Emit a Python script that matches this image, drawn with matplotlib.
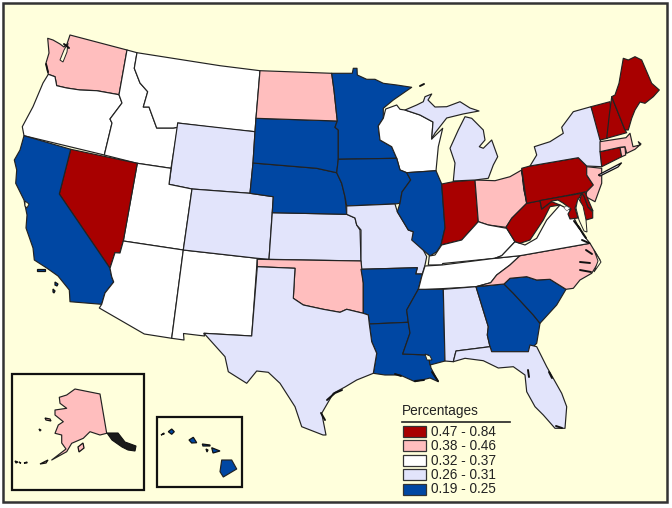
import matplotlib
matplotlib.use("Agg")
import matplotlib.pyplot as plt
from matplotlib.patches import Polygon, Rectangle

plt.rcParams["font.family"] = ["Liberation Sans", "DejaVu Sans"]

# colour classes, top of legend first
legend_title = "Percentages"
legend_labels = ["0.47 - 0.84", "0.38 - 0.46", "0.32 - 0.37", "0.26 - 0.31", "0.19 - 0.25"]
class_colors = ["#a80000", "#ffbebe", "#ffffff", "#e2e4fb", "#0047a3"]
paper = "#ffffdc"

# which class each state falls in (index into legend_labels)
state_class = {
    "WA": 1, "OR": 2, "CA": 4, "NV": 0, "ID": 2, "MT": 2, "WY": 3, "UT": 2, "AZ": 2, "CO": 3,
    "NM": 2, "ND": 1, "SD": 4, "NE": 4, "KS": 3, "OK": 1, "TX": 3, "MN": 4, "IA": 4, "MO": 3,
    "AR": 4, "LA": 4, "WI": 2, "IL": 4, "MS": 4, "MI": 3, "MI2": 3, "IN": 0, "OH": 1, "KY": 2,
    "TN": 2, "AL": 3, "GA": 4, "FL": 3, "SC": 4, "NC": 1, "VA": 2, "WV": 0, "PA": 0, "NY": 3,
    "NJ": 1, "CT": 0, "RI": 1, "MA": 1, "VT": 0, "NH": 0, "ME": 0, "MD": 0, "MD2": 0, "DE": 0,
    "AK": 1, "HI": 4,
}

# state outlines, in the pixel grid of the map sheet
outlines = {
    "WA": [(47.7,38.3),(53,40),(60,44),(64,47),(67,44),(70,35),(127,50),(119,94.7),(96.7,90.7),(80,90),(66.7,88),(56.7,85.7),(55,76.7),(48.3,74.3),(46,63),(49,53)],
    "OR": [(48.3,74.3),(55,76.7),(56.7,85.7),(66.7,88),(80,90),(96.7,90.7),(119,94.7),(122,103),(110,119),(112,123),(104.3,155),(24,135.7),(22.3,126.7),(33,106.7),(43,83)],
    "ID": [(127,50),(137,52.7),(134.3,68.3),(140,83),(147.7,91.7),(143.3,107),(149,107),(156.7,128),(173.3,128),(177.7,127.3),(171,168.3),(137.3,163.3),(104.3,155),(112,123),(110,119),(122,103),(119,94.7)],
    "MT": [(137,52.7),(220,65.7),(260,70.7),(256,118.3),(255,131.7),(220,128.3),(177.7,123),(177.7,127.3),(173.3,128),(156.7,128),(149,107),(143.3,107),(147.7,91.7),(140,83),(134.3,68.3)],
    "WY": [(177.7,123),(255,131.7),(253,163),(250,193.3),(192,189),(169,184.3)],
    "UT": [(137.3,163.3),(171,168.3),(169,184.3),(192,189),(183.3,250),(123.3,241)],
    "NV": [(70.7,149.3),(137.3,163.3),(123.3,241),(120,253),(115,252.7),(110,268.3),(59.3,194)],
    "CA": [(24,135.7),(70.7,149.3),(59.3,194),(110,268.3),(111.7,276.7),(113.7,282),(105,293),(101.7,304.3),(70,301.7),(69.3,290),(58,276),(46.7,268),(34.3,260),(33,248),(26,228),(27,215),(24,200),(15.7,183.3),(16.7,170),(14.3,160),(20,150)],
    "AZ": [(123.3,241),(183.3,250),(171.7,338.3),(144.3,334),(99.3,308),(101.7,304.3),(105,293),(113.7,282),(111.7,276.7),(110,268.3),(115,252.7),(120,253)],
    "NM": [(183.3,250),(257.3,258.3),(251.7,336),(204,333.3),(204.5,336),(183.5,333.5),(184,340),(171.7,338.3)],
    "CO": [(192,189),(250,193.3),(273.3,196.7),(269,259.3),(257.3,258.3),(183.3,250)],
    "KS": [(272.3,212.7),(346.7,214.3),(355,218),(356.7,225),(360,230),(361,261),(269,259.3)],
    "NE": [(253,163),(316.7,168.3),(336.7,172.7),(341.7,183.3),(345,196.7),(346.7,214.3),(272.3,212.7),(273.3,196.7),(250,193.3)],
    "SD": [(256,118.3),(337.3,121),(335,127.3),(338.3,130),(338.3,159.3),(336.7,172.7),(316.7,168.3),(253,163),(255,131.7)],
    "ND": [(260,70.7),(331.7,73.3),(334,90),(337.3,121),(256,118.3)],
    "MN": [(331.7,73.3),(352.3,73.3),(353.3,68.3),(357,68.3),(357.3,75),(366.7,79.3),(375,79.3),(383.3,83.3),(396.7,85),(411.7,87.3),(393.3,100),(383.3,108.3),(383.3,118.3),(378.3,126),(380,140),(391.7,146.7),(396.7,158.3),(338.3,159.3),(338.3,130),(335,127.3),(337.3,121),(334,90)],
    "WI": [(385.7,109),(396.7,105),(400,109.3),(405,110),(420,115),(433,122),(431.7,139),(442.7,128.3),(438.3,146.7),(436,170.7),(406.7,172.7),(400,170),(396.7,158.3),(391.7,146.7),(380,140),(378.3,126),(383.3,118.3)],
    "IA": [(338.3,159.3),(396.7,158.3),(400,170),(406.7,172.7),(410.7,180),(402,192),(400,203.3),(395,204),(346.7,206),(345,196.7),(341.7,183.3),(336.7,172.7)],
    "MO": [(346.7,206),(395,204),(397.3,211.7),(408.3,230),(413.3,231.7),(413.3,240),(423.3,250),(426.7,256.7),(425,265),(422.3,274),(415.7,274),(417.3,267.7),(361,269.3),(361,230),(356.7,225),(355,218),(346.7,214.3)],
    "OK": [(257.3,259.3),(361,261),(363.3,283),(363.3,313.3),(346.7,309.3),(340,312.3),(323.3,309.3),(303.3,305),(293.3,298.3),(295,268.3),(257.3,266.7)],
    "AR": [(361,269.3),(417.3,267.7),(415.7,274),(422.3,274),(418.3,289.3),(406.7,310),(408.3,322.3),(369.3,324),(368.3,315),(363.3,313.3),(363.3,283)],
    "LA": [(369.3,324),(408.3,322.3),(410,333),(402.7,354),(428.3,355),(431,368),(438.3,381.7),(430,378),(415,381.7),(400,375),(385,375),(373.3,373.3),(376.7,353.3),(371.7,341.7)],
    "TX": [(257.3,266.7),(295,268.3),(293.3,298.3),(303.3,305),(323.3,309.3),(340,312.3),(346.7,309.3),(363.3,313.3),(368.3,315),(369.3,324),(371.7,341.7),(376.7,353.3),(373.3,373.3),(356.7,380),(345,387),(333.3,393.3),(321.7,413.3),(326,435),(323,435),(301.7,426.7),(295,406.7),(280,383.3),(268.3,372.3),(256.7,371),(246.7,383.3),(228.3,371.7),(225,356.7),(204,333.3),(251.7,336)],
    "IL": [(406.7,172.7),(436,170.7),(441.7,184),(445,228),(441,245),(436.7,251.7),(430,256),(425,251.7),(411.7,240),(413.3,231.7),(408.3,230),(397.3,211.7),(400,203.3),(402,192),(410.7,180)],
    "IN": [(441.7,184),(453.3,181.7),(475,180),(478.3,221.7),(461.7,240),(441,245),(445,228)],
    "OH": [(475,180),(495,180.7),(510,176.7),(521.7,170),(524,190),(526.7,203.3),(511.7,218.3),(506,227.3),(488.3,225),(478.3,221.7)],
    "MI": [(453.3,181),(455,163),(450,148.3),(458.3,130),(465,116.7),(471.7,118.3),(483.3,130),(485,140),(479.3,146.7),(483.3,148.3),(491.7,140),(497.7,156.7),(493.3,165),(488.3,178.3),(475,180)],
    "MI2": [(405,110),(416.7,105),(423.3,101.7),(425,96.7),(431.7,94),(428,100),(435,107),(446.7,106.7),(460,101.7),(470,108),(479,111),(463,114),(446.7,118),(435,133),(431.7,139),(433,122),(420,115)],
    "KY": [(429.3,256),(435,255),(441.7,245),(461.7,240),(478.3,221.7),(488.3,225),(506.7,228.3),(515,241.7),(501.7,255.7),(495,258.3),(442.7,263.5),(442,265),(428.3,265)],
    "TN": [(425,266),(442,265),(495,258.3),(520,255.7),(510,265),(496.7,275),(490.7,282.7),(476,286.7),(418.3,290),(421.7,276.7)],
    "MS": [(418.3,289.3),(443.3,289.3),(445,361),(430,365),(428.3,355),(402.7,354),(410,333),(408.3,322.3),(406.7,310)],
    "AL": [(443.3,289.3),(476,286.7),(488.3,326.7),(487.3,335),(490,346.7),(456,351),(453.3,361.7),(445,361)],
    "GA": [(476,286.7),(504,284),(513.3,293.3),(533.3,315),(540,323.3),(536.7,343.3),(528.3,351.7),(491.7,351.7),(490,346.7),(487.3,335),(488.3,326.7)],
    "FL": [(456,351),(490,346.7),(491.7,351.7),(528.3,351.7),(530,345),(536.7,346.7),(546.7,366.7),(561.7,393.3),(566.7,406.7),(565,428.3),(555,428.3),(543.3,415),(535,406.7),(526.7,391.7),(525,375),(513.3,366.7),(498.3,368),(483.3,360.7),(465,358.3),(453.3,361.7)],
    "SC": [(504,284),(510,278.3),(526.7,276.7),(536.7,280),(550,279.3),(566,289.3),(556.7,305),(540,323.3),(533.3,315),(513.3,293.3)],
    "NC": [(490.7,282.7),(496.7,275),(510,265),(520,255.7),(590,243.3),(600,260),(591.7,273.3),(580,280),(573.3,288.3),(566,289.3),(550,279.3),(536.7,280),(526.7,276.7),(510,278.3),(504,284),(476,286.7)],
    "VA": [(515,241.7),(525,245),(536.7,238.3),(546.7,220),(560,205),(570,210),(576.7,223.3),(583.3,235),(590,243.3),(520,255.7),(495,258.3),(501.7,255.7)],
    "WV": [(521.7,170),(524,190),(527.3,203.3),(540,200.5),(541.7,209),(551.7,201.7),(560,205),(550,206.7),(543.3,220),(530,240),(520,243.3),(515,241.7),(506.7,228.3),(506,227.3),(511.7,218.3),(526.7,203.3)],
    "PA": [(521.7,168.3),(530,166),(578.3,157.7),(586.7,166),(586.7,175),(593.3,185),(586.7,191.7),(526.7,203.3)],
    "NY": [(530,166),(536.7,155),(534.3,146.7),(550,141.7),(563.3,133.3),(561.7,127.3),(573.3,111.7),(591,106.7),(600,130),(601.7,166.7),(586.7,166),(578.3,157.7)],
    "NJ": [(586.7,166.7),(601.7,168.3),(601.7,183.3),(595,201.7),(585.7,196.7),(586.7,191.7),(593.3,185),(586.7,175)],
    "CT": [(600,151.7),(620,147.3),(621.7,156.7),(601.7,166.7)],
    "RI": [(620,147.7),(625,146.7),(625.7,155),(621.7,156.7)],
    "MA": [(600,141.7),(626,137.7),(630,133.3),(633,146.7),(640,145),(638.3,141.7),(641,144),(635,149.3),(626.7,153.3),(625,146.7),(620,147.3),(600,151.7)],
    "VT": [(591,106.7),(610,101.7),(610.7,108.3),(607.3,138.3),(600,140)],
    "NH": [(611.7,96.7),(625,130),(626.7,132.7),(606.7,138.3),(609.3,115)],
    "ME": [(611.7,96.7),(615,95),(619,83.3),(623.3,58.3),(628.3,60),(635,56.7),(641.7,60),(651.7,83.3),(659.3,90),(653.3,96.7),(645,103.3),(640,102),(635,110),(631.7,118.3),(628.3,130),(625,130)],
    "MD": [(540,200.5),(581.7,193.3),(578,200),(575,208),(578,218),(570,219),(568,214),(571,209),(563,203),(558,200),(552,201),(541.7,209)],
    "MD2": [(581.7,193.3),(584,196),(588,207),(592.7,212),(592.7,218),(586,220),(583,210),(580,200)],
    "DE": [(581.7,193.3),(585,192),(587,197),(593,211),(588,207),(584,196)],
    "AK": [(75,389),(100,394),(106.7,433.3),(100,435),(90,431.7),(83.3,438.3),(71.7,443.3),(66.7,451.7),(51.7,460),(66,449),(61.7,443),(61.7,435),(55,433.3),(58.3,425),(63.3,421.7),(55,415),(55,410),(66.7,408.3),(60,403.3),(59.3,397.3),(66.7,395)],
    "HI": [(221.7,460),(231.7,460),(236.7,469),(223.3,477),(220,471.7)],
}

# smaller pieces that belong to a state: islands, with the same class as the main body
islands = {
    "CA": [[(37,269),(45,269),(45,271),(37,271)], [(55,282),(58,284),(57,286),(55,285)], [(53,289),(55,291),(54,293),(53,292)]],
    "HI": [[(211.7,447.7),(220,451),(213,453)], [(202.3,444),(210,445),(210,446),(203,446)], [(206,449),(208,450),(207,452)],
           [(189,440),(193.3,437.3),(196.7,442.7),(191.7,443)], [(168.3,431.7),(171.7,429),(174.3,431.7),(171.7,434.3)], [(161,435),(164,433),(164,434)]],
    "AK": [[(45,418),(50,419),(51,421),(46,420)], [(39,429),(41,430),(40,431)], [(78,447),(83,443),(84,448),(79,452)],
           [(40,464),(48,460),(46,463)], [(24,463),(27,462),(27,463)], [(15,461),(18,462),(16,463)], [(19,462),(21,463),(20,463)]],
    "NY": [[(598.3,175),(621.7,162.7),(618,167),(600,176)]],
}

# water drawn over the land
water = [
    [(68,43),(64,50),(60,60),(63,62),(67,52)],
    [(25,201),(29,204),(27,208),(25,206)],
    [(578,198),(583,206),(586,220),(587,232),(584,231),(579,220),(576,208)],
    [(594,250),(601,262),(594,272),(598,261)],
    [(425,354),(430,356),(432,360),(427,360)],
]
dc = [(566,206),(570,208),(567,211),(564,208)]

# dense little inlets and islets that read as dark ink
ink = [
    [(107,433),(118,433),(125,442),(136,446),(135,451),(128,450),(122,447),(112,440)],
    [(578,226),(582,232),(586,238)], [(574,221),(580,229)], [(582,240),(589,243)],
    [(580,262),(590,263)], [(580,270),(591,272)], [(586,250),(592,254)],
    [(432,372),(438,381)], [(415,381),(424,380)],
    [(327,400),(335,393),(342,390)], [(321,413),(325,420)],
    [(46,64),(48,72)], [(64,44),(69,48)], [(420,86),(424,84)],
    [(528,370),(529,377)], [(549,372),(552,378)], [(556,426),(562,428)], [(395,374),(401,376)],
]

insets = [(11.7, 374.3, 132.6, 115.7), (156.7, 416.7, 85, 70)]
frame = (3, 3, 664, 499)
legend_x, legend_rows = 402.7, [425.7, 440, 455, 469, 483.5]

fig = plt.figure(figsize=(6.72, 5.08), dpi=100, facecolor="white")
ax = fig.add_axes([0, 0, 1, 1])
ax.set_xlim(0, 672)
ax.set_ylim(508, 0)
ax.axis("off")

ax.add_patch(Rectangle(frame[:2], frame[2], frame[3], fc=paper, ec="#333333", lw=1.8))

for name, pts in outlines.items():
    col = class_colors[state_class[name]]
    ax.add_patch(Polygon(pts, closed=True, fc=col, ec="#222222", lw=0.85, joinstyle="round"))
for name, parts in islands.items():
    col = class_colors[state_class[name]]
    for pts in parts:
        ax.add_patch(Polygon(pts, closed=True, fc=col, ec="#111111", lw=0.9))
for pts in water:
    ax.add_patch(Polygon(pts, closed=True, fc=paper, ec="#222222", lw=0.7))
ax.add_patch(Polygon(dc, closed=True, fc="white", ec="#555555", lw=0.4))

ax.add_patch(Polygon(ink[0], closed=True, fc="#1a1a1a", ec="#111111", lw=0.8))
for pts in ink[1:]:
    ax.plot(*zip(*pts), color="#111111", lw=1.4, solid_capstyle="round")

for x, y, w, h in insets:
    ax.add_patch(Rectangle((x, y), w, h, fc="none", ec="#111111", lw=1.6))

# legend
ax.text(legend_x - 0.5, 411, legend_title, fontsize=9.8, color="#222222", va="center", ha="left")
ax.plot([402, 510], [422, 422], color="#222222", lw=1.2)
for y, col, lab in zip(legend_rows, class_colors, legend_labels):
    ax.add_patch(Rectangle((legend_x, y), 23, 11, fc=col, ec="#333333", lw=0.9))
    ax.text(431, y + 5.8, lab, fontsize=9.8, color="#222222", va="center", ha="left")

fig.savefig("out.png", dpi=100, facecolor="white")
